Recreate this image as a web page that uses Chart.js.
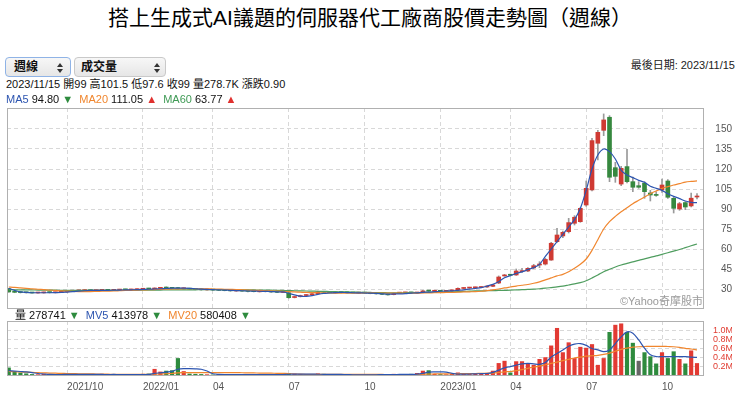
<!DOCTYPE html>
<html><head><meta charset="utf-8">
<script src="https://cdn.jsdelivr.net/npm/chart.js@4"></script>
<style>
html,body{margin:0;padding:0;background:#fff;}
body{width:740px;height:398px;position:relative;overflow:hidden;font-family:"Liberation Sans",Arial,"Noto Sans CJK TC",sans-serif;color:#111;}
.t{position:absolute;white-space:nowrap;z-index:5;}
#title{left:0;width:740px;top:5px;text-align:center;font-size:21px;line-height:26px;font-family:"Liberation Sans","Noto Sans CJK TC",sans-serif;color:#000;}
.sel{position:absolute;top:57px;height:20px;border-radius:4px;background:linear-gradient(#f7f7f7,#e6e6e6);border:1px solid #c9c9c9;font-size:12px;font-weight:bold;line-height:18px;box-sizing:border-box;z-index:5;font-family:"Liberation Sans","Noto Sans CJK TC",sans-serif;}
.sel .up{position:absolute;top:5px;border-left:3px solid transparent;border-right:3px solid transparent;border-bottom:4px solid #333;}
.sel .dn{position:absolute;top:11px;border-left:3px solid transparent;border-right:3px solid transparent;border-top:4px solid #333;}
.info{font-size:11px;line-height:14px;}
canvas{position:absolute;left:0;}
</style></head>
<body>
<div id="title" class="t">搭上生成式AI議題的伺服器代工廠商股價走勢圖（週線）</div>
<div class="sel" style="left:5px;width:66px;padding-left:8px;border-color:#8fb3e6;">週線<span class="up" style="right:7px"></span><span class="dn" style="right:7px"></span></div>
<div class="sel" style="left:74px;width:92px;padding-left:6px;">成交量<span class="up" style="right:5px"></span><span class="dn" style="right:5px"></span></div>
<div class="t info" style="right:5px;top:58px;color:#222;">最後日期: 2023/11/15</div>
<div class="t info" style="left:6px;top:77px;">2023/11/15 開99 高101.5 低97.6 收99 量278.7K 漲跌0.90</div>
<div class="t info" style="left:6px;top:92px;"><span style="color:#2d55b0">MA5</span> 94.80 <span style="color:#2e8b3e">▼</span> &nbsp;<span style="color:#f0862e">MA20</span> 111.05 <span style="color:#e0302e">▲</span> &nbsp;<span style="color:#3f9a55">MA60</span> 63.77 <span style="color:#e0302e">▲</span></div>
<div class="t info" style="right:37px;top:294px;color:#9a9a9a;">©Yahoo奇摩股市</div>
<div class="t info" style="left:15px;top:308px;">量 278741 <span style="color:#2e8b3e">▼</span> &nbsp;<span style="color:#2d55b0">MV5</span> 413978 <span style="color:#2e8b3e">▼</span> &nbsp;<span style="color:#f0862e">MV20</span> 580408 <span style="color:#2e8b3e">▼</span></div>
<canvas id="price" width="740" height="212" style="top:100px"></canvas>
<canvas id="vol" width="740" height="82" style="top:316px"></canvas>
<script>
const weeks = ['2021/07/26','2021/08/02','2021/08/09','2021/08/16','2021/08/23','2021/08/30','2021/09/06','2021/09/13','2021/09/20','2021/09/27',
'2021/10/04','2021/10/11','2021/10/18','2021/10/25','2021/11/01','2021/11/08','2021/11/15','2021/11/22','2021/11/29','2021/12/06',
'2021/12/13','2021/12/20','2021/12/27','2022/01/03','2022/01/10','2022/01/17','2022/01/24','2022/02/07','2022/02/14','2022/02/21',
'2022/02/28','2022/03/07','2022/03/14','2022/03/21','2022/03/28','2022/04/04','2022/04/11','2022/04/18','2022/04/25','2022/05/02',
'2022/05/09','2022/05/16','2022/05/23','2022/05/30','2022/06/06','2022/06/13','2022/06/20','2022/06/27','2022/07/04','2022/07/11',
'2022/07/18','2022/07/25','2022/08/01','2022/08/08','2022/08/15','2022/08/22','2022/08/29','2022/09/05','2022/09/12','2022/09/19',
'2022/09/26','2022/10/03','2022/10/10','2022/10/17','2022/10/24','2022/10/31','2022/11/07','2022/11/14','2022/11/21','2022/11/28',
'2022/12/05','2022/12/12','2022/12/19','2022/12/26','2023/01/02','2023/01/09','2023/01/16','2023/01/30','2023/02/06','2023/02/13',
'2023/02/20','2023/02/27','2023/03/06','2023/03/13','2023/03/20','2023/03/27','2023/04/03','2023/04/10','2023/04/17','2023/04/24',
'2023/05/01','2023/05/08','2023/05/15','2023/05/22','2023/05/29','2023/06/05','2023/06/12','2023/06/19','2023/06/26','2023/07/03',
'2023/07/10','2023/07/17','2023/07/24','2023/07/31','2023/08/07','2023/08/14','2023/08/21','2023/08/28','2023/09/04','2023/09/11',
'2023/09/18','2023/09/25','2023/10/02','2023/10/09','2023/10/16','2023/10/23','2023/10/30','2023/11/06','2023/11/15'];

const xTickWeeks = ['2021/10/04','2022/01/03','2022/04/04','2022/07/04','2022/10/03','2023/01/02','2023/04/03','2023/07/03','2023/10/02'];
const xTickText = ['2021/10','2022/01','04','07','10','2023/01','04','07','10'];
const priceTicks = [30,45,60,75,90,105,120,135,150];
const volTicks = [200000,400000,600000,800000,1000000];
const volTickText = ['0.2M','0.4M','0.6M','0.8M','1.0M'];

const open = [30.2,27.9,27.6,27.4,27.3,27.0,27.1,27.5,27.2,27.5,
27.8,28.3,28.6,28.8,29.2,28.8,29.0,29.3,29.0,29.2,
29.6,29.3,29.5,29.8,30.3,30.0,30.5,31.0,30.9,30.8,
30.2,30.4,30.0,29.7,29.3,29.5,29.3,29.1,28.8,28.5,
28.7,28.5,28.3,27.9,28.3,28.1,27.8,27.4,27.2,23.6,
24.3,25.1,25.7,26.5,28.0,27.6,27.1,27.5,27.4,27.3,
26.9,27.1,26.9,26.7,26.5,26.1,25.8,26.9,27.1,27.4,
27.0,27.3,28.7,28.3,28.6,28.2,28.6,29.2,30.4,30.7,
30.9,31.1,31.5,32.0,34.5,39.8,40.8,40.5,43.0,43.5,
45.8,48.0,48.7,51.7,65.5,69.8,73.0,79.3,80.5,93.0,
104.3,139.3,149.0,158.8,121.0,108.7,121.8,110.5,107.5,109.3,
102.0,100.5,104.3,111.0,98.0,90.0,94.8,92.3,99];
const close = [27.8,27.5,27.3,27.2,27.0,27.2,27.4,27.3,27.5,27.8,
28.3,28.6,28.9,29.1,28.8,29.0,29.2,29.0,29.3,29.5,
29.4,29.6,29.8,30.2,30.0,30.6,30.9,30.7,30.5,30.3,
30.5,29.9,29.6,29.4,29.5,29.2,29.0,28.8,28.6,28.7,
28.4,28.2,28.0,28.3,28.0,27.8,27.5,27.6,23.5,24.2,
25.0,25.6,26.4,28.0,27.5,27.2,27.4,27.3,27.2,27.0,
27.1,26.9,26.6,26.4,26.0,25.6,26.8,27.2,27.3,27.1,
27.2,28.6,28.4,28.5,28.3,28.6,29.0,30.5,30.8,31.0,
31.2,31.5,32.0,33.0,39.0,40.5,40.3,43.5,43.6,45.5,
47.5,48.7,52.2,64.3,70.5,72.5,79.8,83.8,90.5,105.5,
141.3,147.5,156.8,113.8,114.5,120.5,110.5,106.3,106.3,103.0,
100.5,100.2,108.0,98.8,90.5,94.0,91.5,98.1,99];
const high = [30.5,28.2,27.9,27.6,27.5,27.5,27.7,27.7,27.7,28.0,
28.6,28.9,29.2,29.4,29.4,29.3,29.5,29.5,29.6,29.8,
29.9,29.9,30.1,30.5,30.6,30.9,31.2,31.6,31.2,31.3,
30.8,30.6,30.2,29.9,29.8,29.7,29.5,29.3,29.0,29.0,
28.9,28.7,28.5,28.6,28.5,28.3,28.0,27.9,27.5,24.6,
25.4,25.9,26.7,28.4,28.3,27.8,27.7,27.7,27.6,27.5,
27.3,27.3,27.1,26.9,26.7,26.3,27.0,27.4,27.6,27.6,
27.5,29.0,28.9,28.8,28.8,28.9,29.3,30.9,31.1,31.3,
31.5,31.8,32.3,33.5,39.8,41.0,41.2,45.0,45.5,46.0,
48.5,50.5,53.0,65.0,75.5,73.5,83.0,85.0,91.0,111.0,
143.0,149.0,161.3,160.0,125.0,122.0,134.7,114.0,110.5,110.5,
104.0,103.0,112.5,112.0,99.0,95.0,95.5,102.0,101.5];
const low = [27.5,27.2,27.0,26.9,26.8,26.8,26.9,27.0,27.0,27.3,
27.6,28.0,28.4,28.6,28.5,28.6,28.8,28.8,28.8,29.0,
29.1,29.1,29.3,29.6,29.7,29.8,30.3,30.4,30.2,30.0,
29.9,29.6,29.4,29.1,29.1,29.0,28.8,28.6,28.3,28.3,
28.2,27.9,27.8,27.7,27.8,27.5,27.2,27.2,23.0,23.3,
24.0,24.8,25.5,26.3,27.2,26.9,26.8,27.0,27.0,26.8,
26.7,26.6,26.4,26.1,25.8,25.3,25.6,26.7,26.9,26.8,
26.8,27.1,28.1,28.1,28.0,28.0,28.4,29.0,30.2,30.5,
30.7,30.9,31.2,31.8,34.0,39.5,39.8,40.2,42.5,43.0,
45.2,46.0,48.0,51.5,65.0,68.5,72.0,78.0,80.0,92.0,
103.5,126.8,145.0,110.5,110.0,107.5,109.5,103.0,105.5,98.0,
96.0,99.5,102.5,98.0,87.0,89.0,89.5,91.5,97.6];

const ma5 = [30.5,29.0,27.8,27.4,27.2,27.2,27.2,27.2,27.3,27.4,
27.7,28.0,28.4,28.7,28.9,29.0,29.0,29.0,29.1,29.2,
29.3,29.4,29.5,29.7,29.8,30.0,30.2,30.4,30.6,30.6,
30.6,30.5,30.2,29.9,29.7,29.5,29.4,29.2,29.0,28.8,
28.7,28.5,28.4,28.3,28.2,28.1,27.9,27.8,26.8,25.6,
24.6,24.4,25.0,26.0,26.7,27.0,27.3,27.5,27.3,27.2,
27.1,27.0,26.9,26.7,26.4,26.1,26.3,26.4,26.6,26.9,
27.1,27.5,27.7,28.0,28.3,28.5,28.6,29.0,29.4,29.9,
30.5,31.0,32.2,33.5,35.5,38.5,40.0,41.7,42.8,44.5,
46.0,48.5,54.5,60.0,65.5,71.0,76.5,82.0,90.5,104.0,
120.0,130.5,135.0,133.0,127.5,119.0,115.5,113.5,111.5,110.0,
107.0,105.5,104.0,101.5,99.5,97.8,96.0,95.0,94.8];
const ma20 = [31.5,31.2,30.8,30.5,30.1,29.8,29.5,29.2,28.9,28.6,
28.4,28.2,28.1,28.1,28.1,28.2,28.3,28.4,28.5,28.7,
28.9,29.0,29.2,29.3,29.5,29.6,29.7,29.9,30.0,30.1,
30.2,30.2,30.2,30.1,30.1,30.0,29.9,29.8,29.7,29.6,
29.4,29.2,29.0,28.9,28.7,28.6,28.4,28.3,28.0,27.8,
27.6,27.4,27.3,27.2,27.1,27.0,26.9,26.8,26.8,26.8,
26.9,27.0,27.1,27.0,27.0,26.9,26.9,26.9,26.8,26.8,
26.9,27.0,27.1,27.2,27.3,27.4,27.5,27.6,27.8,27.9,
28.0,28.3,28.8,29.3,30.0,30.8,31.5,32.2,32.8,33.4,
34.3,35.4,36.8,38.3,39.8,41.0,43.0,45.5,48.5,52.5,
59.0,67.0,75.0,80.5,84.5,88.0,91.0,94.0,96.5,99.0,
101.5,103.5,105.5,106.8,108.0,109.0,110.2,110.7,111.05];
const ma60 = [29.5,29.4,29.4,29.3,29.3,29.2,29.2,29.1,29.1,29.0,
29.0,28.9,28.9,28.9,28.9,28.9,28.9,28.9,29.0,29.0,
29.0,29.0,29.1,29.1,29.1,29.2,29.2,29.3,29.3,29.4,
29.4,29.4,29.4,29.5,29.5,29.5,29.5,29.5,29.5,29.4,
29.4,29.3,29.3,29.2,29.2,29.1,29.0,28.9,28.8,28.7,
28.6,28.5,28.4,28.3,28.2,28.1,28.0,27.9,27.8,27.7,
27.6,27.5,27.4,27.3,27.3,27.2,27.2,27.2,27.2,27.3,
27.3,27.4,27.5,27.6,27.7,27.8,27.9,28.0,28.2,28.4,
28.6,28.6,28.7,28.8,28.9,29.0,29.1,29.3,29.5,29.7,
29.9,30.2,30.6,31.1,31.6,32.2,33.0,33.8,34.8,36.2,
38.3,40.5,43.0,44.8,46.5,48.0,49.2,50.3,51.5,52.6,
53.7,54.8,56.0,57.2,58.4,59.6,61.0,62.4,63.77];

const volume = [180000,85000,70000,50000,35000,30000,40000,25000,30000,35000,
45000,40000,35000,30000,35000,30000,40000,30000,35000,30000,
25000,35000,30000,40000,45000,150000,90000,110000,120000,390000,
100000,45000,40000,35000,30000,25000,30000,35000,25000,30000,
35000,30000,25000,35000,30000,25000,40000,35000,60000,45000,
35000,30000,35000,50000,40000,30000,25000,30000,25000,30000,
25000,30000,25000,30000,35000,30000,40000,35000,30000,40000,
60000,110000,120000,40000,35000,30000,45000,70000,40000,35000,
50000,60000,60000,110000,280000,330000,70000,320000,320000,280000,
240000,370000,410000,670000,1060000,520000,740000,390000,640000,620000,
700000,240000,390000,970000,1130000,1160000,970000,730000,330000,520000,
430000,270000,520000,390000,540000,370000,270000,560000,278741];
const mv5 = [120000,110000,100000,90000,75000,55000,45000,36000,32000,33000,
35000,37000,37000,37000,36000,34000,34000,33000,34000,33000,
32000,31000,31000,33000,35000,60000,71000,87000,103000,150000,
165000,165000,160000,150000,110000,50000,35000,30000,29000,29000,
31000,31000,29000,31000,31000,29000,31000,33000,39000,41000,
43000,41000,41000,39000,38000,38000,36000,35000,32000,28000,
27000,28000,27000,28000,29000,30000,33000,34000,34000,35000,
41000,60000,85000,90000,90000,88000,60000,44000,44000,44000,
48000,51000,55000,80000,130000,180000,210000,240000,270000,280000,
270000,260000,300000,420000,500000,580000,660000,710000,720000,680000,
610000,580000,540000,580000,720000,870000,980000,950000,800000,620000,
470000,430000,430000,430000,430000,430000,430000,420000,413978];
const mv20 = [100000,95000,90000,85000,80000,75000,70000,66000,62000,58000,
55000,52000,50000,48000,46000,44000,42000,40000,38000,36000,
35000,35000,35000,35000,36000,42000,46000,50000,55000,70000,
74000,75000,76000,76000,76000,76000,76000,76000,75000,74000,
72000,70000,68000,66000,64000,62000,60000,58000,56000,45000,
40000,36000,35000,35000,35000,35000,35000,35000,35000,35000,
34000,34000,34000,34000,34000,33000,33000,33000,32000,32000,
34000,38000,43000,45000,47000,48000,49000,51000,52000,53000,
55000,58000,62000,66000,78000,92000,100000,120000,140000,170000,
200000,220000,250000,280000,310000,340000,370000,400000,420000,440000,
450000,460000,480000,510000,550000,590000,620000,640000,650000,655000,
660000,660000,660000,655000,650000,635000,615000,600000,580408];

const C = {up:'#cf3a33', down:'#36883f', volUp:'#e23a33', volDown:'#2e8b3e', flat:'#666', wick:'#9a9a9a',
  blue:'#2d55b0', orange:'#f0862e', green:'#4f9d5f', grid:'#d8d8d8', frame:'#b0b0b0'};
Chart.defaults.font.family = '"Liberation Sans", Arial, sans-serif';

const xTickPos = xTickWeeks.map(d => weeks.indexOf(d));
const pts = arr => arr.map((v, i) => ({x: i, y: v}));
const noPad = s => { s.paddingTop = 0; s.paddingBottom = 0; s.paddingLeft = 0; s.paddingRight = 0; };
const frame = {id:'frame', afterDraw(chart){ const {ctx, chartArea:a} = chart; ctx.save(); ctx.strokeStyle = C.frame; ctx.lineWidth = 1;
  ctx.strokeRect(Math.round(a.left)+0.5, Math.round(a.top)+0.5, Math.round(a.right-a.left)-1, Math.round(a.bottom-a.top)-1); ctx.restore(); }};
const line = (arr, color) => ({type:'line', data: pts(arr), borderColor: color, borderWidth: 1.2, pointRadius: 0, tension: 0.3, order: 0});
const xScale = (showTicks) => ({type:'linear', offset:false, min:-0.3, max:119.2,
  afterBuildTicks: s => { s.ticks = xTickPos.map(v => ({value: v})); },
  grid:{color:C.grid, drawTicks:false, offset:false}, border:{display:false, dash:[4,3]},
  ticks: showTicks ? {autoSkip:false, maxRotation:0, minRotation:0, align:'start', color:'#555', font:{size:10}, padding:5, callback:(v, i) => xTickText[i]} : {display:false},
  afterFit: s => { s.height = showTicks ? 22 : 0; noPad(s); }});
const common = {responsive:false, animation:false, devicePixelRatio:1, plugins:{legend:{display:false}, tooltip:{enabled:false}}};

new Chart(document.getElementById('price'), {
  type:'bar',
  data:{datasets:[
    line(ma5, C.blue), line(ma20, C.orange), line(ma60, C.green),
    {data: weeks.map((_, i) => ({x: i, y: [open[i], close[i]]})), backgroundColor: weeks.map((_, i) => close[i] >= open[i] ? C.up : C.down),
      barThickness: 4, grouped: false, minBarLength: 1, order: 1},
    {data: weeks.map((_, i) => ({x: i, y: [low[i], high[i]]})), backgroundColor: C.wick, barThickness: 1, grouped: false, order: 2}
  ]},
  options:{...common, layout:{padding:{left:7, top:8, bottom:3, right:8}},
    scales:{
      x: xScale(false),
      y:{position:'right', min:15, max:165.75, afterBuildTicks: s => { s.ticks = priceTicks.map(v => ({value: v})); },
        ticks:{autoSkip:false, color:'#555', font:{size:10}, padding:5, crossAlign:'far', callback: v => String(v)},
        grid:{color:C.grid, drawTicks:false}, border:{display:false, dash:[4,3]}, afterFit: s => { s.width = 28; noPad(s); }}
    }},
  plugins:[frame]
});

const volColors = volume.map((_, i) => {
  const prev = i === 0 ? open[0] : close[i-1];
  return close[i] > prev ? C.volUp : (close[i] < prev ? C.volDown : C.flat);
});
new Chart(document.getElementById('vol'), {
  type:'bar',
  data:{datasets:[
    line(mv5, C.blue), line(mv20, C.orange),
    {data: pts(volume), backgroundColor: volColors, barThickness: 3.5, grouped: false, order: 1}
  ]},
  options:{...common, layout:{padding:{left:7, top:5, bottom:0, right:8}},
    scales:{
      x: xScale(true),
      y:{position:'right', min:0, max:1222000, afterBuildTicks: s => { s.ticks = volTicks.map(v => ({value: v})); },
        ticks:{autoSkip:false, color:'#e03c31', font:{size:9}, padding:9, crossAlign:'near', callback: (v, i) => volTickText[i]},
        grid:{color:C.grid, drawTicks:false}, border:{display:false, dash:[4,3]}, afterFit: s => { s.width = 28; noPad(s); }}
    }},
  plugins:[frame]
});
</script>
</body></html>
